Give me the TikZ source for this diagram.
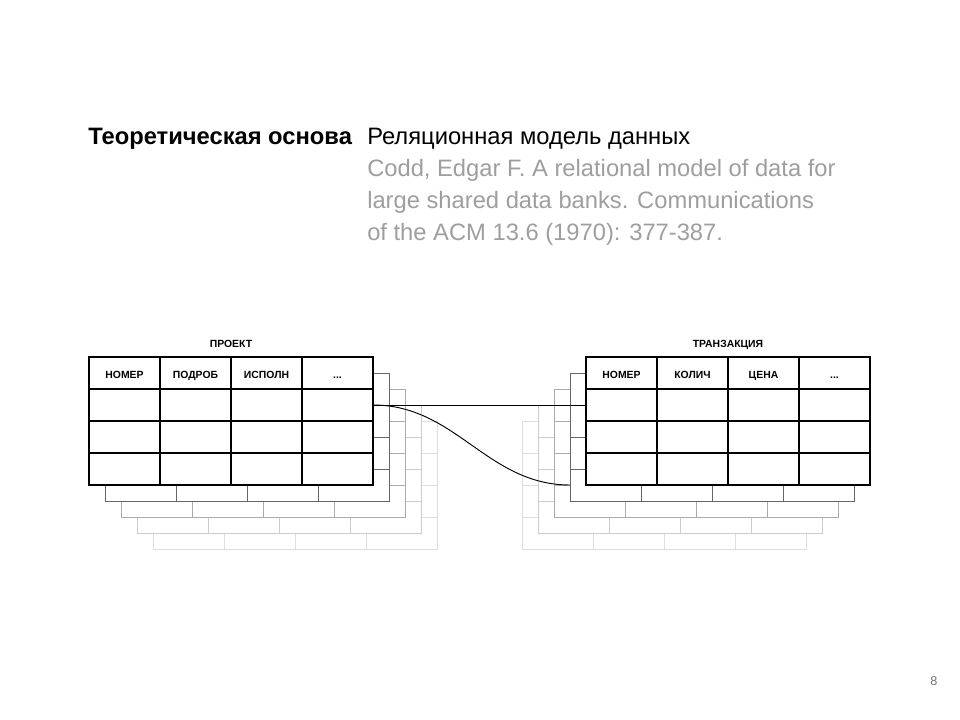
\documentclass[tikz,border=0pt]{standalone}
\usepackage{fontspec}
\setmainfont{Liberation Sans}
\usepackage{tikz}
\usetikzlibrary{positioning}
\definecolor{refgray}{RGB}{158,158,158}
\newcommand\slidefont{\fontsize{17.8pt}{21pt}\selectfont}
\newcommand\cellfont{\fontsize{7.8pt}{9pt}\selectfont\bfseries}
\newcommand\celldots{...}

\begin{document}
\begin{tikzpicture}[
  x=0.75pt, y=-0.75pt,
  cell/.style={rectangle, draw, fill=white, minimum width=53.25pt, minimum height=24pt, inner sep=0pt, outer sep=0pt, font=\cellfont},
  front/.style={cell, line width=0.9pt},
  back/.style={cell, line width=0.7pt},
  label/.style={font=\cellfont, text height=1.6ex, text depth=0pt, inner sep=0pt},
  caption/.style={label},
  link/.style={draw, line width=0.7pt},
]
  \useasboundingbox (0,0) rectangle (960,720);

  % Heading
  \node[anchor=base west, font=\slidefont\bfseries, inner sep=0pt] (theory) at (88,145) {Теоретическая основа};
  \node[anchor=base west, font=\slidefont, inner sep=0pt] (model) at (367,145) {Реляционная модель данных};
  \node[anchor=base west, font=\slidefont, text=refgray, inner sep=0pt] (ref1) at (367,177) {Codd, Edgar F. A relational model of data for};
  \node[anchor=base west, font=\slidefont, text=refgray, inner sep=0pt] (ref2) at (367,209) {large shared data banks. Communications};
  \node[anchor=base west, font=\slidefont, text=refgray, inner sep=0pt] (ref3) at (367,241) {of the ACM 13.6 (1970): 377-387.};

  % Stacked copies behind the tables
  \foreach \k/\col in {4/black!13, 3/black!20, 2/black!33, 1/black!60}{
    \foreach \r in {1,2,3,4}{
      \foreach \c in {1,2,3,4}{
        \node[back, draw=\col] (p\k-\r-\c) at ({89+16*\k+71*(\c-0.5)},{357+16*\k+32*(\r-0.5)}) {};
        \node[back, draw=\col] (t\k-\r-\c) at ({586-16*\k+71*(\c-0.5)},{357+16*\k+32*(\r-0.5)}) {};
      }
    }
  }

  % Front tables
  \foreach \r in {1,2,3,4}{
    \foreach \c in {1,2,3,4}{
      \node[front] (p-\r-\c) at ({89+71*(\c-0.5)},{357+32*(\r-0.5)}) {};
      \node[front] (t-\r-\c) at ({586+71*(\c-0.5)},{357+32*(\r-0.5)}) {};
    }
  }
  \foreach \c/\txt in {1/НОМЕР, 2/ПОДРОБ, 3/ИСПОЛН, 4/\celldots}
    \node[label] at (p-1-\c) {\txt};
  \foreach \c/\txt in {1/НОМЕР, 2/КОЛИЧ, 3/ЦЕНА, 4/\celldots}
    \node[label] at (t-1-\c) {\txt};

  % Table names
  \node[caption] (ptitle) at (231,342) {ПРОЕКТ};
  \node[caption] (ttitle) at (728,342) {ТРАНЗАКЦИЯ};

  % Links
  \draw[link] (p-2-4.east) -- (t-2-1.west);
  \draw[link] (p-2-4.east) to[out=0, in=180] (t1-4-1.west);

  % Page number
  \node[text=black!55, font=\fontsize{9.5pt}{11pt}\selectfont] (pagenum) at (934,681) {8};
\end{tikzpicture}
\end{document}
